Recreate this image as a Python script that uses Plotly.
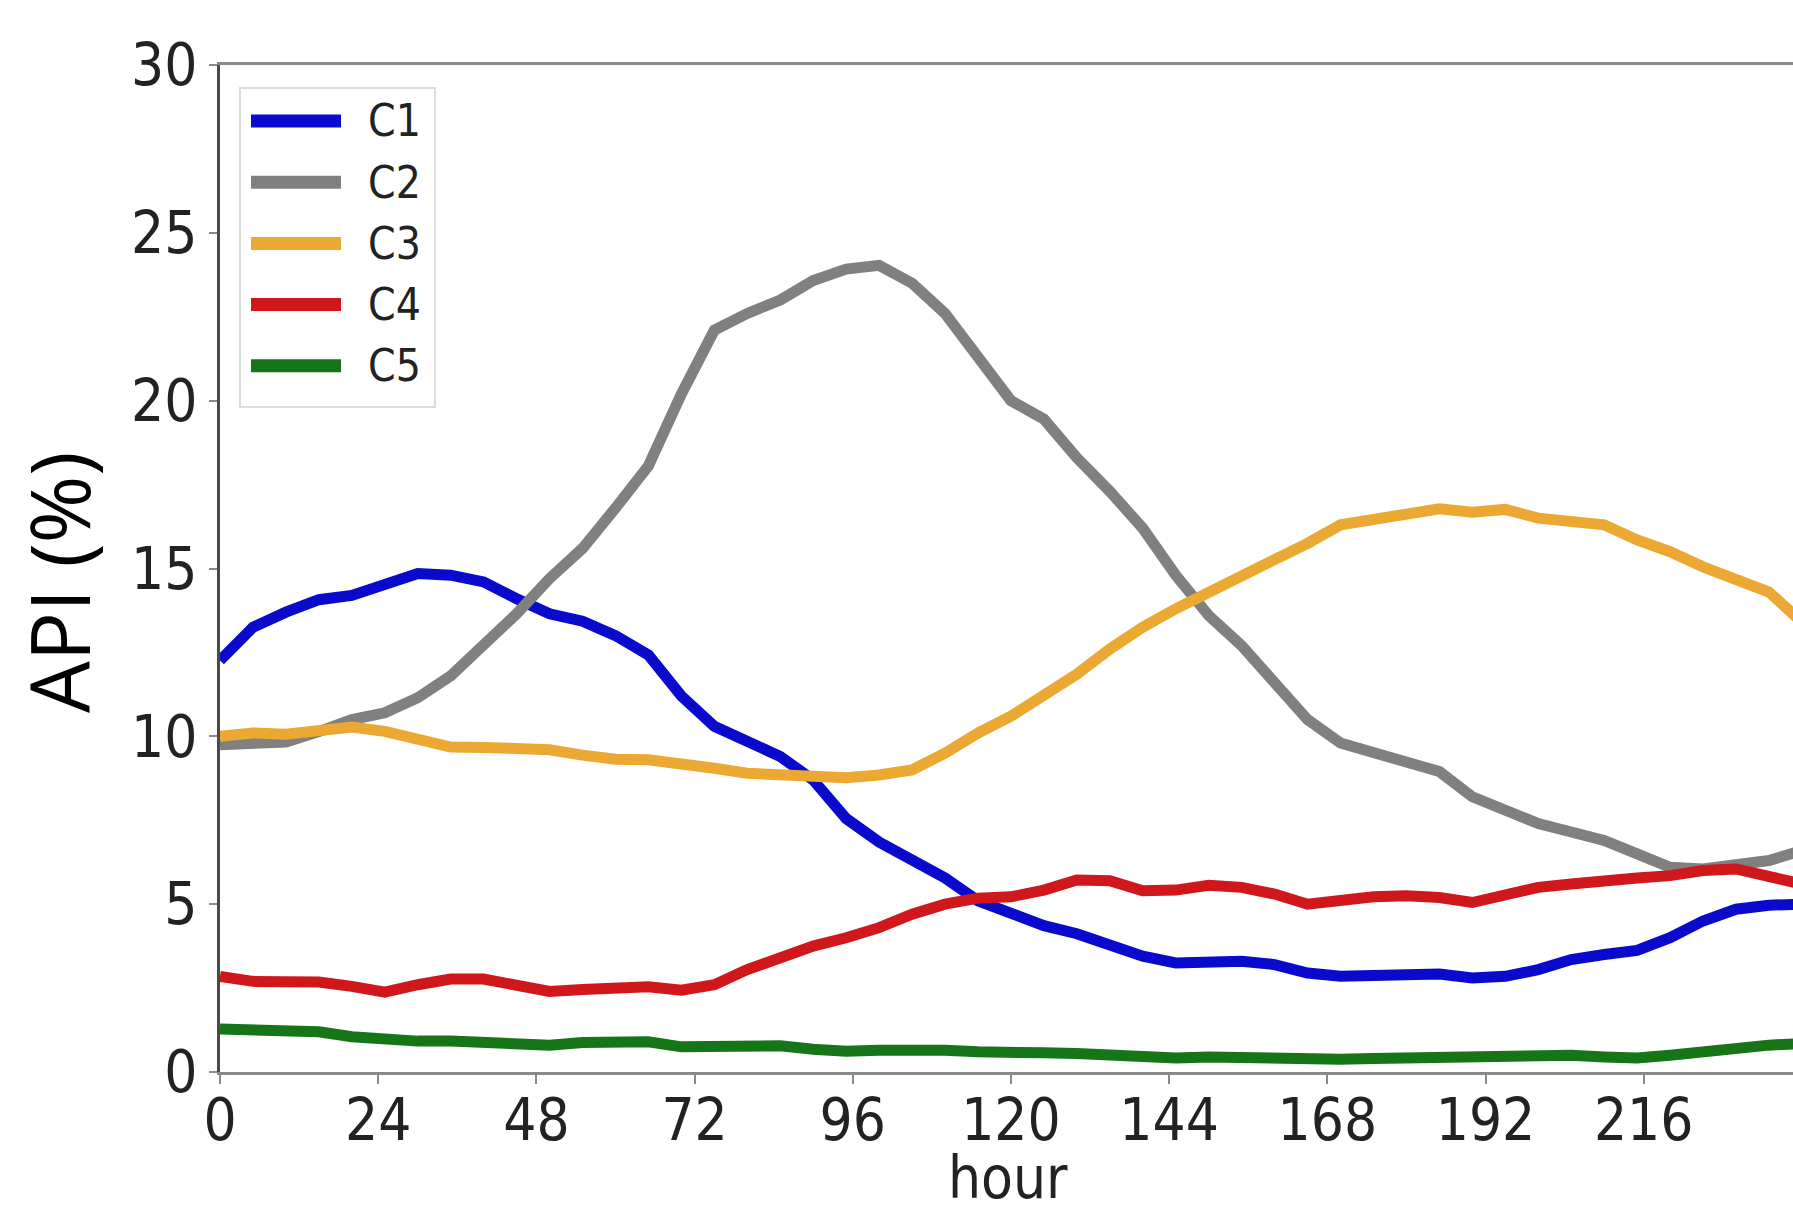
import plotly.graph_objects as go

# Hourly API (%) profiles of five clusters
hours = list(range(0, 241, 5))

c1 = [12.26, 13.25, 13.7, 14.07, 14.2, 14.5, 14.85, 14.8, 14.6, 14.1,
      13.65, 13.43, 13.0, 12.42, 11.2, 10.3, 9.85, 9.4, 8.7, 7.55,
      6.85, 6.32, 5.78, 5.1, 4.7, 4.36, 4.12, 3.82, 3.45, 3.25,
      3.25, 3.3, 3.2, 2.95, 2.85, 2.88, 2.88, 2.92, 2.8, 2.85,
      3.05, 3.35, 3.5, 3.62, 4.0, 4.5, 4.85, 4.97, 5.0]
c2 = [9.75, 9.75, 9.83, 10.14, 10.5, 10.7, 11.15, 11.8, 12.7, 13.65,
      14.7, 15.6, 16.8, 18.06, 20.2, 22.1, 22.6, 23.0, 23.58, 23.92,
      24.03, 23.5, 22.6, 21.35, 20.0, 19.45, 18.3, 17.3, 16.2, 14.8,
      13.6, 12.7, 11.6, 10.5, 9.8, 9.5, 9.2, 8.95, 8.2, 7.8,
      7.4, 7.15, 6.9, 6.5, 6.1, 6.05, 6.15, 6.3, 6.6]
c3 = [10.0, 10.1, 10.06, 10.14, 10.28, 10.15, 9.9, 9.68, 9.67, 9.6,
      9.6, 9.44, 9.32, 9.3, 9.2, 9.05, 8.9, 8.88, 8.78, 8.77,
      8.85, 9.0, 9.5, 10.1, 10.6, 11.25, 11.85, 12.6, 13.25, 13.8,
      14.28, 14.75, 15.28, 15.75, 16.3, 16.46, 16.6, 16.78, 16.68, 16.76,
      16.5, 16.4, 16.3, 15.85, 15.5, 15.05, 14.65, 14.3, 13.4]
c4 = [2.85, 2.7, 2.69, 2.68, 2.55, 2.38, 2.6, 2.77, 2.77, 2.62,
      2.4, 2.46, 2.5, 2.54, 2.44, 2.6, 3.05, 3.4, 3.75, 4.0,
      4.3, 4.7, 5.0, 5.18, 5.22, 5.42, 5.72, 5.7, 5.4, 5.42,
      5.56, 5.5, 5.3, 5.0, 5.15, 5.22, 5.25, 5.2, 5.05, 5.25,
      5.5, 5.6, 5.72, 5.78, 5.85, 6.0, 6.05, 5.85, 5.6]
c5 = [1.28, 1.28, 1.28, 1.2, 1.05, 0.95, 0.92, 0.92, 0.88, 0.78,
      0.8, 0.88, 0.92, 0.9, 0.75, 0.76, 0.78, 0.78, 0.68, 0.62,
      0.65, 0.68, 0.65, 0.6, 0.55, 0.57, 0.55, 0.5, 0.43, 0.42,
      0.45, 0.42, 0.42, 0.4, 0.38, 0.4, 0.42, 0.42, 0.42, 0.45,
      0.5, 0.5, 0.45, 0.42, 0.5, 0.62, 0.7, 0.8, 0.85]

names = ["C1", "C2", "C3", "C4", "C5"]
series = [c1, c2, c3, c4, c5]
colors = ["#0a0acc", "#808080", "#eba832", "#d0181c", "#167516"]

x_ticks = [0, 24, 48, 72, 96, 120, 144, 168, 192, 216]
y_ticks = [0, 5, 10, 15, 20, 25, 30]

W, H = 1793, 1206
L, R, T, B = 220, 0, 65, 134
PW, PH = W - L - R, H - T - B

TICK_FONT = "Liberation Sans Narrow, DejaVu Sans Condensed, Arial Narrow, sans-serif"


def px(xp):
    return (xp - L) / PW


def py(yp):
    return (H - B - yp) / PH


fig = go.Figure()
for name, vals, col in zip(names, series, colors):
    fig.add_trace(go.Scatter(x=hours, y=vals, mode="lines", name=name,
                             line=dict(color=col, width=11),
                             showlegend=False))

# legend panel
shapes = [dict(type="rect", xref="paper", yref="paper",
               x0=px(240), x1=px(435), y0=py(407), y1=py(88),
               line=dict(color="#dcdcdc", width=2), fillcolor="rgba(255,255,255,0.9)",
               layer="above")]
annotations = []
for i, (name, col) in enumerate(zip(names, colors)):
    yy = 121 + i * 61.2
    shapes.append(dict(type="line", xref="paper", yref="paper",
                       x0=px(251), x1=px(341), y0=py(yy), y1=py(yy),
                       line=dict(color=col, width=13), layer="above"))
    annotations.append(dict(text=name, xref="paper", yref="paper",
                            x=px(366), y=py(yy), xanchor="left", yanchor="middle",
                            showarrow=False,
                            font=dict(family=TICK_FONT, size=44, color="#222")))

annotations.append(dict(text="API (%)", xref="paper", yref="paper",
                        x=px(58), y=py(582), xanchor="center", yanchor="middle",
                        textangle=-90, showarrow=False,
                        font=dict(family="Open Sans, sans-serif", size=82, color="#000")))
annotations.append(dict(text="hour", xref="paper", yref="paper",
                        x=px(1008), y=py(1178), xanchor="center", yanchor="middle",
                        showarrow=False,
                        font=dict(family=TICK_FONT, size=58, color="#222")))

fig.update_layout(
    width=W, height=H,
    margin=dict(l=L, r=R, t=T, b=B, pad=0),
    paper_bgcolor="white", plot_bgcolor="white",
    shapes=shapes, annotations=annotations,
    xaxis=dict(range=[0, 238.65], tickvals=x_ticks, ticktext=[str(v) for v in x_ticks],
               showgrid=False, zeroline=False, showline=True, linecolor="#8a8a8a",
               linewidth=3, mirror=True, ticks="outside", ticklen=9, tickwidth=2,
               tickcolor="#8a8a8a", ticklabelstandoff=-14,
               tickfont=dict(family=TICK_FONT, size=58, color="#222")),
    yaxis=dict(range=[0, 30], tickvals=y_ticks, ticktext=[str(v) for v in y_ticks],
               showgrid=False, zeroline=False, showline=True, linecolor="#4a4a4a",
               linewidth=3, ticks="outside", ticklen=8, tickwidth=2,
               tickcolor="#8a8a8a",
               tickfont=dict(family=TICK_FONT, size=58, color="#222")),
)

fig.write_html("out.html")
